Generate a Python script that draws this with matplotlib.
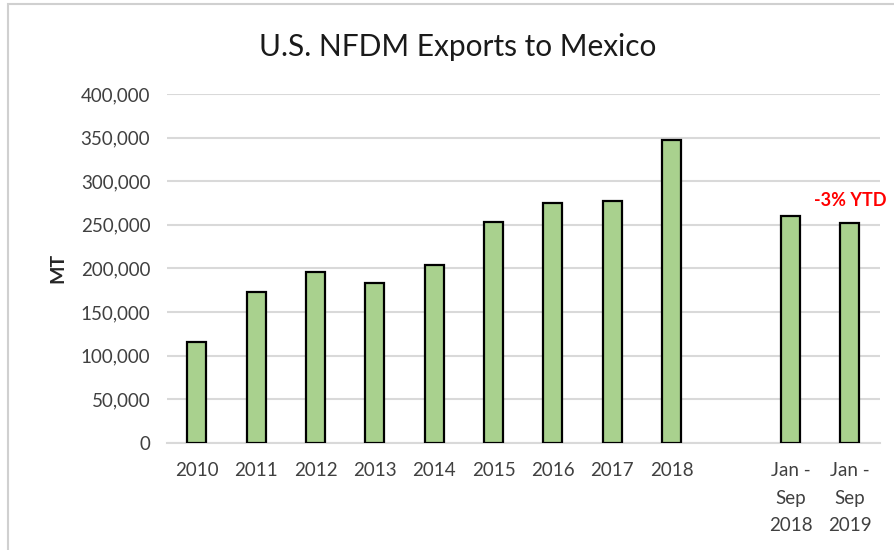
import matplotlib
matplotlib.use("Agg")
import matplotlib.pyplot as plt
from matplotlib.patches import Rectangle

categories = ["2010", "2011", "2012", "2013", "2014", "2015", "2016", "2017", "2018",
              "", "Jan -\nSep\n2018", "Jan -\nSep\n2019"]
values = [115000, 173000, 196000, 183000, 204000, 253000, 274500, 277000, 347000,
          None, 259500, 251500]
yticks = [0, 50000, 100000, 150000, 200000, 250000, 300000, 350000, 400000]
annotation = "-3% YTD"

plt.rcParams['font.family'] = ['Lato', 'DejaVu Sans']

fig = plt.figure(figsize=(8.94, 5.5), dpi=100)
ax = fig.add_axes([167/894, 1 - 442.7/550, (879.5 - 167)/894, (442.7 - 94)/550])

xs = [i for i, v in enumerate(values) if v is not None]
hs = [v for v in values if v is not None]
ax.bar(xs, hs, width=0.32, color="#A9D18E", edgecolor="black", linewidth=1.6, zorder=3)

ax.set_xlim(-0.5, len(categories) - 0.5)
ax.set_ylim(0, 400000)
ax.set_yticks(yticks)
ax.set_yticklabels([f"{t:,}" for t in yticks])
ax.set_xticks(range(len(categories)))
ax.set_xticklabels(categories, linespacing=1.75, va="top")
ax.tick_params(axis="both", length=0, labelsize=13.5, colors="#404040")
ax.tick_params(axis="x", pad=14)
ax.tick_params(axis="y", pad=12)

ax.grid(axis="y", color="#d9d9d9", linewidth=1.5, zorder=0)
for s in ["top", "right", "left"]:
    ax.spines[s].set_visible(False)
ax.spines["bottom"].set_color("#d9d9d9")
ax.spines["bottom"].set_linewidth(1.5)

ax.set_ylabel("MT", fontsize=14, fontweight="bold", color="#262626", labelpad=10)

ax.text(11, 278000, annotation, color="#FF0000", fontsize=13, fontweight="bold",
        ha="center", va="center", clip_on=False)

fig.text(458/894, 1 - 47/550, "U.S. NFDM Exports to Mexico", ha="center", va="center",
         fontsize=21.5, color="#1a1a1a")

fig.patches.append(Rectangle((8/894, -0.1), 1.2, (550 - 4)/550 + 0.1, transform=fig.transFigure,
                             fill=False, edgecolor="#d0d0d0", linewidth=1.5))

fig.savefig("out.png", dpi=100, facecolor="white")
